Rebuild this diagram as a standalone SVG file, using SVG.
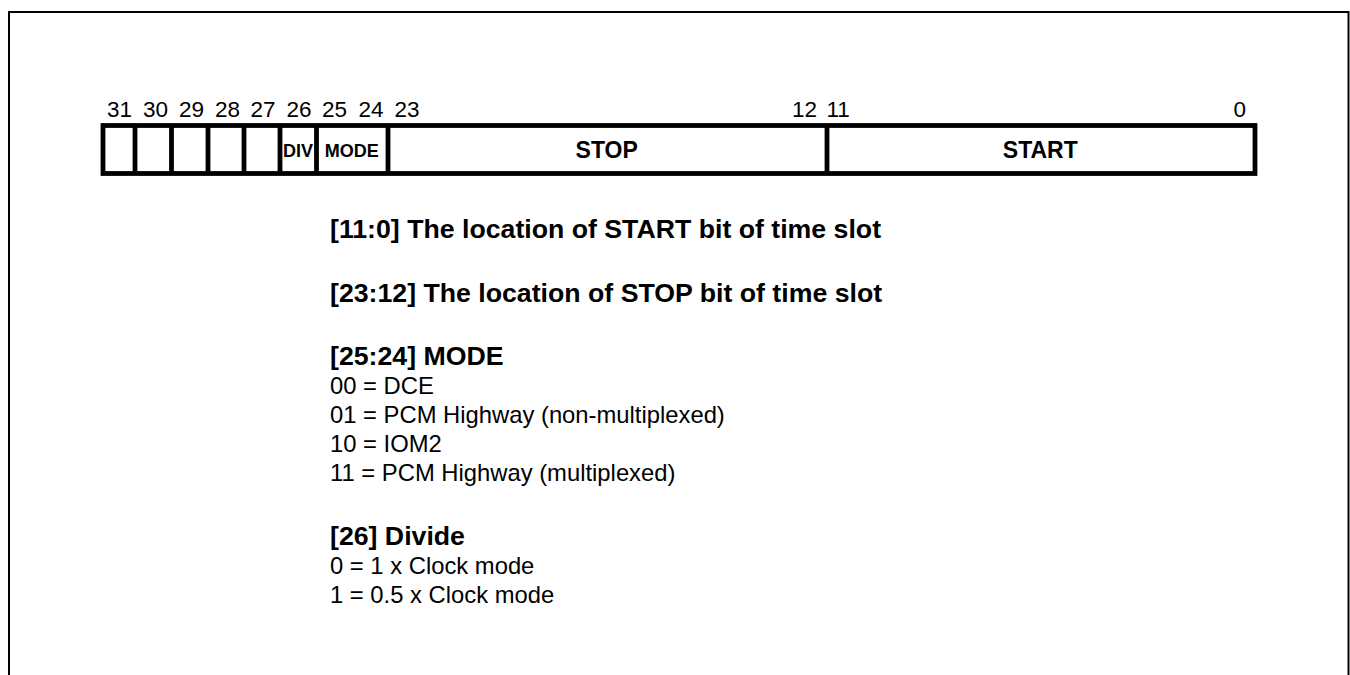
<svg xmlns="http://www.w3.org/2000/svg" width="1350" height="675" viewBox="0 0 1350 675">
  <style>
    .frame { fill: none; stroke: #000; stroke-width: 2; }
    .reg { fill: #fff; stroke: #000; stroke-width: 4.8; }
    .div { stroke: #000; stroke-width: 4.8; }
    .num { font-family: "Liberation Sans", Arial, sans-serif; font-size: 22.5px; fill: #000; }
    .cellS { font-family: "Liberation Sans", Arial, sans-serif; font-size: 18px; font-weight: bold; fill: #000; text-anchor: middle; }
    .cellL { font-family: "Liberation Sans", Arial, sans-serif; font-size: 23px; font-weight: bold; fill: #000; text-anchor: middle; }
    .hd { font-family: "Liberation Sans", Arial, sans-serif; font-size: 26.7px; font-weight: bold; fill: #000; }
    .tx { font-family: "Liberation Sans", Arial, sans-serif; font-size: 23.8px; fill: #000; }
  </style>
  <rect width="1350" height="675" fill="#fff"/>
  <path class="frame" d="M9,676 L9,12 L1348.5,12 L1348.5,676"/>

  <g id="register">
    <rect class="reg" x="103" y="125.5" width="1152" height="48"/>
    <line class="div" x1="135" y1="125.5" x2="135" y2="173.5"/>
    <line class="div" x1="171.5" y1="125.5" x2="171.5" y2="173.5"/>
    <line class="div" x1="208" y1="125.5" x2="208" y2="173.5"/>
    <line class="div" x1="244" y1="125.5" x2="244" y2="173.5"/>
    <line class="div" x1="280" y1="125.5" x2="280" y2="173.5"/>
    <line class="div" x1="316.5" y1="125.5" x2="316.5" y2="173.5"/>
    <line class="div" x1="388" y1="125.5" x2="388" y2="173.5"/>
    <line class="div" x1="827" y1="125.5" x2="827" y2="173.5"/>
  </g>

  <g id="bit-numbers">
    <text class="num" x="107" y="117">31</text>
    <text class="num" x="143" y="117">30</text>
    <text class="num" x="179" y="117">29</text>
    <text class="num" x="215" y="117">28</text>
    <text class="num" x="250.5" y="117">27</text>
    <text class="num" x="286.5" y="117">26</text>
    <text class="num" x="322" y="117">25</text>
    <text class="num" x="358.5" y="117">24</text>
    <text class="num" x="394.5" y="117">23</text>
    <text class="num" x="792" y="117">12</text>
    <text class="num" x="826.5" y="117">11</text>
    <text class="num" x="1233.5" y="117">0</text>
  </g>

  <g id="field-div">
    <text class="cellS" x="298" y="156.5">DIV</text>
  </g>
  <g id="field-mode">
    <text class="cellS" x="351.7" y="156.5">MODE</text>
  </g>
  <g id="field-stop">
    <text class="cellL" x="606.7" y="158.3">STOP</text>
  </g>
  <g id="field-start">
    <text class="cellL" x="1040.3" y="158.3">START</text>
  </g>

  <g id="description">
    <text class="hd" x="330" y="238.3">[11:0] The location of START bit of time slot</text>
    <text class="hd" x="330" y="302">[23:12] The location of STOP bit of time slot</text>
    <text class="hd" x="330" y="365">[25:24] MODE</text>
    <text class="tx" x="330" y="394">00 = DCE</text>
    <text class="tx" x="330" y="423">01 = PCM Highway (non-multiplexed)</text>
    <text class="tx" x="330" y="452">10 = IOM2</text>
    <text class="tx" x="330" y="481">11 = PCM Highway (multiplexed)</text>
    <text class="hd" x="330" y="545">[26] Divide</text>
    <text class="tx" x="330" y="574">0 = 1 x Clock mode</text>
    <text class="tx" x="330" y="603">1 = 0.5 x Clock mode</text>
  </g>
</svg>
